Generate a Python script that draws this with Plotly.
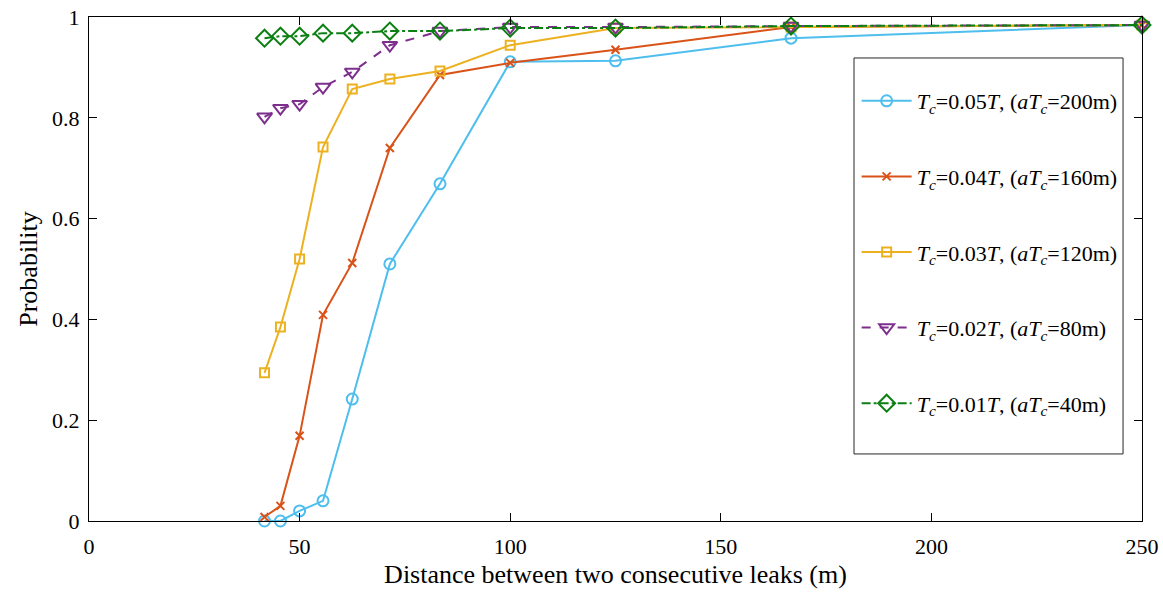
import plotly.graph_objects as go

# Distance between two consecutive leaks (m)
distance = [41.67, 45.45, 50, 55.56, 62.5, 71.43, 83.33, 100, 125, 166.67, 250]

# Detection probability for each correlation time
p_005 = [0.0, 0.0, 0.02, 0.04, 0.242, 0.51, 0.669, 0.911, 0.913, 0.958, 0.984]
p_004 = [0.008, 0.03, 0.169, 0.409, 0.512, 0.74, 0.885, 0.909, 0.935, 0.98, 0.984]
p_003 = [0.294, 0.385, 0.52, 0.742, 0.857, 0.877, 0.893, 0.944, 0.978, 0.98, 0.984]
p_002 = [0.802, 0.819, 0.827, 0.861, 0.891, 0.944, 0.972, 0.98, 0.98, 0.982, 0.984]
p_001 = [0.958, 0.962, 0.962, 0.968, 0.968, 0.972, 0.972, 0.978, 0.978, 0.982, 0.984]

labels = [
    "<i>T</i><sub><i>c</i></sub>=0.05<i>T</i>, (<i>aT</i><sub><i>c</i></sub>=200m)",
    "<i>T</i><sub><i>c</i></sub>=0.04<i>T</i>, (<i>aT</i><sub><i>c</i></sub>=160m)",
    "<i>T</i><sub><i>c</i></sub>=0.03<i>T</i>, (<i>aT</i><sub><i>c</i></sub>=120m)",
    "<i>T</i><sub><i>c</i></sub>=0.02<i>T</i>, (<i>aT</i><sub><i>c</i></sub>=80m)",
    "<i>T</i><sub><i>c</i></sub>=0.01<i>T</i>, (<i>aT</i><sub><i>c</i></sub>=40m)",
]

series = [p_005, p_004, p_003, p_002, p_001]
colors = ["#4DBEEE", "#D95319", "#EDB120", "#7E2F8E", "#0B7F12"]
dashes = ["solid", "solid", "solid", "dash", "dashdot"]
symbols = ["circle-open", "x-thin-open", "square-open", "triangle-down-open", "diamond-open"]
sizes = [11, 8, 9, 13, 13]

FONT = "Liberation Serif, Times New Roman, serif"

fig = go.Figure()
for i, (y, name) in enumerate(zip(series, labels)):
    fig.add_trace(go.Scatter(
        x=distance, y=y, name=name, mode="lines+markers",
        legendgroup=f"g{i}",
        line=dict(color=colors[i], width=2, dash=dashes[i]),
        marker=dict(symbol=symbols[i], size=sizes[i], color=colors[i],
                    line=dict(color=colors[i], width=2)),
        cliponaxis=False,
    ))

axis_common = dict(
    showline=True, linecolor="black", linewidth=1, mirror="ticks",
    ticks="inside", ticklen=8, tickcolor="black", tickwidth=1,
    showgrid=False, zeroline=False, automargin=False,
    tickfont=dict(family=FONT, size=22, color="black"),
)

fig.update_layout(
    width=1163, height=594,
    margin=dict(l=89, r=21, t=17, b=73),
    paper_bgcolor="white", plot_bgcolor="white",
    font=dict(family=FONT, color="black"),
    xaxis=dict(range=[0, 250], tickvals=[0, 50, 100, 150, 200, 250],
               ticklabelstandoff=6,
               title=dict(text="Distance between two consecutive leaks (m)",
                          font=dict(family=FONT, size=26), standoff=6),
               **axis_common),
    yaxis=dict(range=[0, 1], tickvals=[0, 0.2, 0.4, 0.6, 0.8, 1],
               ticktext=["0", "0.2", "0.4", "0.6", "0.8", "1"],
               ticklabelstandoff=4,
               title=dict(text="Probability", font=dict(family=FONT, size=26), standoff=6),
               **axis_common),
    legend=dict(
        x=0.729, y=0.875, xanchor="left", yanchor="top",
        bgcolor="rgba(0,0,0,0)", borderwidth=0,
        font=dict(family=FONT, size=22, color="black"),
        traceorder="grouped", tracegroupgap=44, itemwidth=50,
    ),
    shapes=[dict(type="rect", xref="paper", yref="paper",
                 x0=0.7265, x1=0.982, y0=0.133, y1=0.9187,
                 line=dict(color="#262626", width=1), fillcolor="white",
                 layer="above")],
)

fig.write_html("out.html")
